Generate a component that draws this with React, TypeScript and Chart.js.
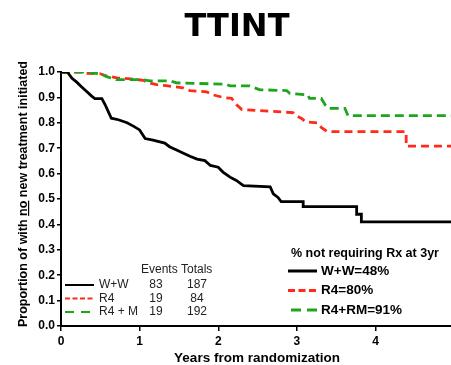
import React, { useEffect, useRef } from 'react';
import { Chart, registerables } from 'chart.js';

Chart.register(...registerables);

// ---------- data ----------
const TITLE = 'TTINT';
const X_TITLE = 'Years from randomization';
const Y_TITLE_PRE = 'Proportion of with ';
const Y_TITLE_UNDER = 'no';
const Y_TITLE_POST = ' new treatment initiated';

const xTicks = [0, 1, 2, 3, 4];
const yTicks = [0.0, 0.1, 0.2, 0.3, 0.4, 0.5, 0.6, 0.7, 0.8, 0.9, 1.0];
const X_MAX = 4.96;

const seriesNames = ['W+W', 'R4', 'R4 + M'];
const events = [83, 19, 19];
const totals = [187, 84, 192];
const rxLabels = ['W+W=48%', 'R4=80%', 'R4+RM=91%'];
const RX_TITLE = '% not requiring Rx at 3yr';

const wwT = [0, 0.08, 0.14, 0.2, 0.26, 0.33, 0.39, 0.43, 0.52, 0.56, 0.6, 0.64, 0.73, 0.84, 0.92, 1.0, 1.07, 1.17, 1.32, 1.38, 1.47, 1.53, 1.64, 1.73, 1.83, 1.9, 2.0, 2.06, 2.15, 2.23, 2.32, 2.66, 2.7, 2.76, 2.8, 3.08, 3.08, 3.76, 3.76, 3.82, 3.82, 4.96];
const wwS = [1.0, 1.0, 0.975, 0.96, 0.942, 0.922, 0.905, 0.895, 0.895, 0.872, 0.845, 0.818, 0.812, 0.8, 0.787, 0.772, 0.738, 0.732, 0.72, 0.706, 0.693, 0.684, 0.668, 0.657, 0.651, 0.632, 0.625, 0.606, 0.586, 0.573, 0.553, 0.548, 0.52, 0.506, 0.49, 0.49, 0.47, 0.47, 0.44, 0.44, 0.41, 0.41];

const r4T = [0, 0.28, 0.3, 0.5, 0.56, 0.71, 0.88, 1.05, 1.09, 1.215, 1.34, 1.55, 1.64, 1.85, 1.935, 2.06, 2.17, 2.23, 2.3, 2.95, 2.97, 3.06, 3.11, 3.27, 3.31, 3.39, 4.39, 4.39, 4.96];
const r4S = [1.0, 1.0, 0.995, 0.993, 0.986, 0.977, 0.973, 0.967, 0.96, 0.95, 0.946, 0.938, 0.927, 0.922, 0.91, 0.9, 0.896, 0.872, 0.852, 0.84, 0.832, 0.817, 0.804, 0.799, 0.782, 0.765, 0.765, 0.708, 0.708];

const rmT = [0, 0.28, 0.5, 0.58, 0.7, 1.04, 1.13, 1.385, 1.47, 2.1, 2.15, 2.4, 2.53, 2.87, 2.91, 3.14, 3.16, 3.31, 3.36, 3.4, 3.61, 3.65, 4.96];
const rmS = [1.0, 1.0, 0.993, 0.982, 0.97, 0.97, 0.965, 0.965, 0.957, 0.952, 0.945, 0.945, 0.93, 0.927, 0.916, 0.91, 0.896, 0.896, 0.87, 0.857, 0.857, 0.828, 0.828];

// ---------- styles ----------
const BLACK = '#000000';
const RED = '#ff2a1a';
const GREEN = '#1ea51e';
const SANS = '"Liberation Sans", Arial, sans-serif';

const pts = (t: number[], s: number[]) => t.map((x, i) => ({ x, y: s[i] }));

const overlay = {
  id: 'overlay',
  afterDraw(chart: any) {
    const ctx: CanvasRenderingContext2D = chart.ctx;
    ctx.save();
    ctx.fillStyle = '#000';
    // main title
    ctx.font = 'bold 32px "DejaVu Sans", sans-serif';
    ctx.textAlign = 'center';
    ctx.textBaseline = 'alphabetic';
    ctx.fillText(TITLE, 237, 36);

    // x title
    ctx.font = `bold 13.5px ${SANS}`;
    ctx.textBaseline = 'middle';
    ctx.fillText(X_TITLE, 257, 358);

    // y title rotated
    ctx.save();
    ctx.translate(22, 194);
    ctx.rotate(-Math.PI / 2);
    ctx.font = `bold 12.5px ${SANS}`;
    const full = Y_TITLE_PRE + Y_TITLE_UNDER + Y_TITLE_POST;
    const w = ctx.measureText(full).width;
    const wPre = ctx.measureText(Y_TITLE_PRE).width;
    const wUnder = ctx.measureText(Y_TITLE_UNDER).width;
    ctx.textAlign = 'left';
    ctx.textBaseline = 'alphabetic';
    const x0 = -w / 2;
    ctx.fillText(full, x0, 4.5);
    ctx.fillRect(x0 + wPre, 6, wUnder, 1.2);
    ctx.restore();

    // bottom-left legend
    ctx.font = `12px ${SANS}`;
    ctx.fillStyle = '#222';
    ctx.textBaseline = 'middle';
    ctx.textAlign = 'left';
    ctx.fillText('Events Totals', 141, 270);
    const rowsY = [285, 298.5, 312];
    const colors = [BLACK, RED, GREEN];
    const legDash = [[], [5, 2.5], [9, 7]];
    for (let i = 0; i < 3; i++) {
      const y = rowsY[i];
      ctx.save();
      ctx.strokeStyle = colors[i];
      ctx.lineWidth = 2;
      ctx.setLineDash(legDash[i]);
      ctx.beginPath();
      ctx.moveTo(65, y);
      ctx.lineTo(94, y);
      ctx.stroke();
      ctx.restore();
      ctx.fillStyle = '#222';
      ctx.textAlign = 'left';
      ctx.fillText(seriesNames[i], 99, y);
      ctx.textAlign = 'center';
      ctx.fillText(String(events[i]), 156, y);
      ctx.fillText(String(totals[i]), 197, y);
    }

    // right legend
    ctx.fillStyle = '#000';
    ctx.font = `bold 12.5px ${SANS}`;
    ctx.textAlign = 'center';
    ctx.fillText(RX_TITLE, 365, 254);
    ctx.font = `bold 13.5px ${SANS}`;
    const rY = [271, 290.5, 310];
    const rDash = [[], [7, 3.5], [10, 6]];
    const rStart = [288, 288, 291];
    for (let i = 0; i < 3; i++) {
      const y = rY[i];
      ctx.save();
      ctx.strokeStyle = colors[i];
      ctx.lineWidth = 3;
      ctx.setLineDash(rDash[i]);
      ctx.beginPath();
      ctx.moveTo(rStart[i], y);
      ctx.lineTo(317, y);
      ctx.stroke();
      ctx.restore();
      ctx.fillStyle = '#000';
      ctx.textAlign = 'left';
      ctx.fillText(rxLabels[i], 321, y);
    }
    ctx.restore();
  },
};

export default function App() {
  const ref = useRef<HTMLCanvasElement>(null);
  useEffect(() => {
    document.body.style.margin = '0';
    const chart = new Chart(ref.current as HTMLCanvasElement, {
      type: 'line',
      data: {
        datasets: [
          { label: seriesNames[0], data: pts(wwT, wwS), borderColor: BLACK, borderWidth: 2.8, pointRadius: 0, tension: 0, order: 0, borderCapStyle: 'butt' },
          { label: seriesNames[2], data: pts(rmT, rmS), borderColor: GREEN, borderWidth: 2.8, borderDash: [9, 5], pointRadius: 0, tension: 0, order: 1, borderCapStyle: 'butt' },
          { label: seriesNames[1], data: pts(r4T, r4S), borderColor: RED, borderWidth: 2.8, borderDash: [8, 5], pointRadius: 0, tension: 0, order: 2, borderCapStyle: 'butt' },
        ],
      },
      options: {
        responsive: false,
        animation: false,
        layout: { padding: { top: 72, left: 0, right: 0, bottom: 0 } },
        plugins: { legend: { display: false }, tooltip: { enabled: false }, title: { display: false } },
        scales: {
          x: {
            type: 'linear',
            min: 0,
            max: X_MAX,
            afterFit: (s: any) => { s.height = 39; },
            afterBuildTicks: (s: any) => { s.ticks = xTicks.map((v) => ({ value: v })); },
            ticks: { font: { family: SANS, size: 12, weight: 'bold' }, color: '#000', padding: 3, maxRotation: 0, callback: (v: any) => String(v) },
            grid: { drawOnChartArea: false, drawTicks: true, tickLength: 5, color: '#000', lineWidth: 1.5 },
            border: { display: true, color: '#000', width: 2 },
          },
          y: {
            type: 'linear',
            min: 0,
            max: 1,
            afterFit: (s: any) => { s.width = 61; },
            afterBuildTicks: (s: any) => { s.ticks = yTicks.map((v) => ({ value: v })); },
            ticks: { font: { family: SANS, size: 12, weight: 'bold' }, color: '#000', padding: 2, callback: (v: any) => Number(v).toFixed(1) },
            grid: { drawOnChartArea: false, drawTicks: true, tickLength: 4, color: '#000', lineWidth: 1.5 },
            border: { display: true, color: '#000', width: 2 },
          },
        },
      },
      plugins: [overlay],
    } as any);
    return () => chart.destroy();
  }, []);
  return (
    <div style={{ position: 'absolute', left: 0, top: 0, width: 451, height: 365, background: '#fff' }}>
      <canvas ref={ref} width={451} height={365} style={{ display: 'block', width: 451, height: 365 }} />
    </div>
  );
}
